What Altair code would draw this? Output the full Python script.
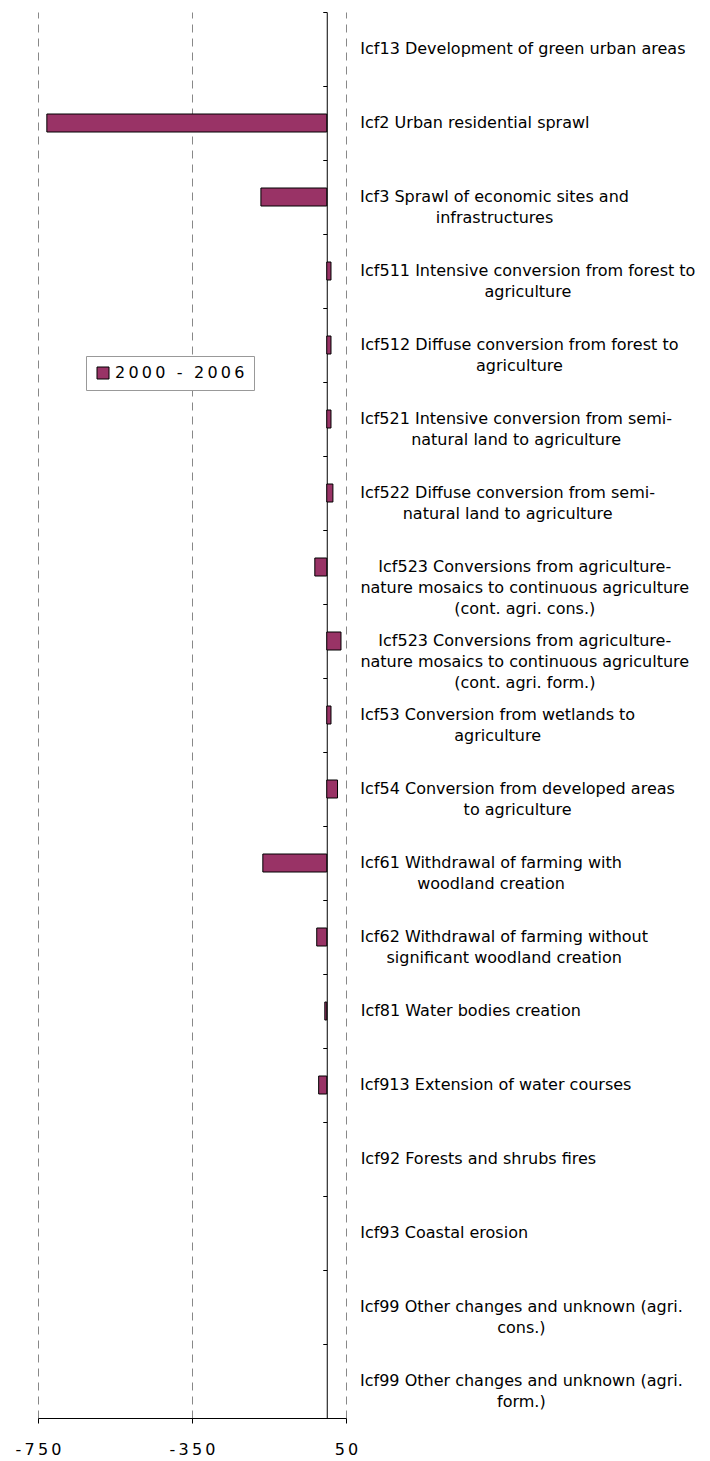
import altair as alt
import pandas as pd

# ---- data ----
categories = [
    ["Icf13 Development of green urban areas"],
    ["Icf2 Urban residential sprawl"],
    ["Icf3 Sprawl of economic sites and", "infrastructures"],
    ["Icf511 Intensive conversion from forest to", "agriculture"],
    ["Icf512 Diffuse conversion from forest to", "agriculture"],
    ["Icf521 Intensive conversion from semi-", "natural land to agriculture"],
    ["Icf522 Diffuse conversion from semi-", "natural land to agriculture"],
    ["Icf523 Conversions from agriculture-", "nature mosaics to continuous agriculture", "(cont. agri. cons.)"],
    ["Icf523 Conversions from agriculture-", "nature mosaics to continuous agriculture", "(cont. agri. form.)"],
    ["Icf53 Conversion from wetlands to", "agriculture"],
    ["Icf54 Conversion from developed areas", "to agriculture"],
    ["Icf61 Withdrawal of farming with", "woodland creation"],
    ["Icf62 Withdrawal of farming without", "significant woodland creation"],
    ["Icf81 Water bodies creation"],
    ["Icf913 Extension of water courses"],
    ["Icf92 Forests and shrubs fires"],
    ["Icf93 Coastal erosion"],
    ["Icf99 Other changes and unknown (agri.", "cons.)"],
    ["Icf99 Other changes and unknown (agri.", "form.)"],
]
values = [0, -727, -171, 11, 11, 11, 16, -31, 37, 11, 28, -166, -26, -5, -21, 0, 0, 0, 0]
series_name = "2000 - 2006"
x_ticks = [-750, -350, 50]
x_domain = [-750, 50]

# ---- layout ----
W = 308
H = 1406
FONT = "DejaVu Sans"
FS = 16
GAP = 14

# approximate DejaVu Sans advance widths (em) to centre multi-line label blocks
_w = {" ": 0.318, "(": 0.390, ")": 0.390, "-": 0.361, ".": 0.318,
      "I": 0.295, "C": 0.698, "D": 0.770, "E": 0.632, "F": 0.575, "O": 0.787,
      "S": 0.635, "U": 0.732, "W": 0.989,
      "a": 0.613, "b": 0.635, "c": 0.550, "d": 0.635, "e": 0.615, "f": 0.352,
      "g": 0.635, "h": 0.634, "i": 0.278, "j": 0.278, "k": 0.579, "l": 0.278,
      "m": 0.974, "n": 0.634, "o": 0.612, "p": 0.635, "q": 0.635, "r": 0.411,
      "s": 0.521, "t": 0.392, "u": 0.634, "v": 0.592, "w": 0.818, "x": 0.592,
      "y": 0.592, "z": 0.525}
for d in "0123456789":
    _w[d] = 0.636


def text_width(s):
    return sum(_w.get(c, 0.6) for c in s) * FS


keys = [" ".join(l) for l in categories]
df = pd.DataFrame({
    "key": keys,
    "label": ["\n".join(l) for l in categories],
    "value": values,
    "series": [series_name] * len(values),
    "lx": [W + GAP + max(text_width(s) for s in l) / 2 for l in categories],
})

spaced = "join(split(replace(datum.label, '\u2212', '-'), ''), '\u2009')"

y_enc = alt.Y(
    "key:N", sort=keys,
    scale=alt.Scale(paddingInner=0, paddingOuter=0),
    axis=alt.Axis(orient="left", offset=-(0 - x_domain[0]) / (x_domain[1] - x_domain[0]) * W,
                  labels=False, title=None, grid=False, domainColor="black",
                  domainWidth=1, tickColor="black", tickSize=4, bandPosition=0),
)

bars = alt.Chart(df).transform_filter("datum.value != 0").mark_bar(
    size=18, stroke="black", strokeWidth=1
).encode(
    x=alt.X("value:Q", scale=alt.Scale(domain=x_domain, nice=False),
            axis=alt.Axis(values=x_ticks, title=None, grid=True, gridDash=[8, 6],
                          gridColor="#888", gridWidth=1, domainColor="black",
                          tickColor="black", tickSize=5, labelFont=FONT,
                          labelFontSize=FS, labelColor="black", labelPadding=18,
                          labelFlush=False, labelExpr=spaced)),
    y=y_enc,
    color=alt.Color("series:N", scale=alt.Scale(range=["#993366"]),
                    legend=alt.Legend(title=None, orient="none", legendX=48, legendY=344,
                                      symbolType="square", symbolSize=144,
                                      symbolStrokeColor="black", symbolStrokeWidth=1,
                                      labelFont=FONT, labelFontSize=FS, labelColor="black",
                                      labelOffset=4, strokeColor="#999", fillColor="white",
                                      padding=9, labelExpr=spaced)),
)

labels = alt.Chart(df).mark_text(align="center", baseline="middle", font=FONT,
                                 fontSize=FS, lineHeight=21, lineBreak="\n",
                                 color="black").encode(
    x=alt.X("lx:Q", scale=None),
    y=y_enc,
    text="label:N",
)

chart = alt.layer(bars, labels).properties(
    width=W, height=H,
    autosize=alt.AutoSizeParams(type="none"),
    padding={"left": 30, "top": 4, "right": 356, "bottom": 40},
).configure_view(strokeWidth=0)

chart.save("out.html", embed_options={"renderer": "svg", "actions": False})
